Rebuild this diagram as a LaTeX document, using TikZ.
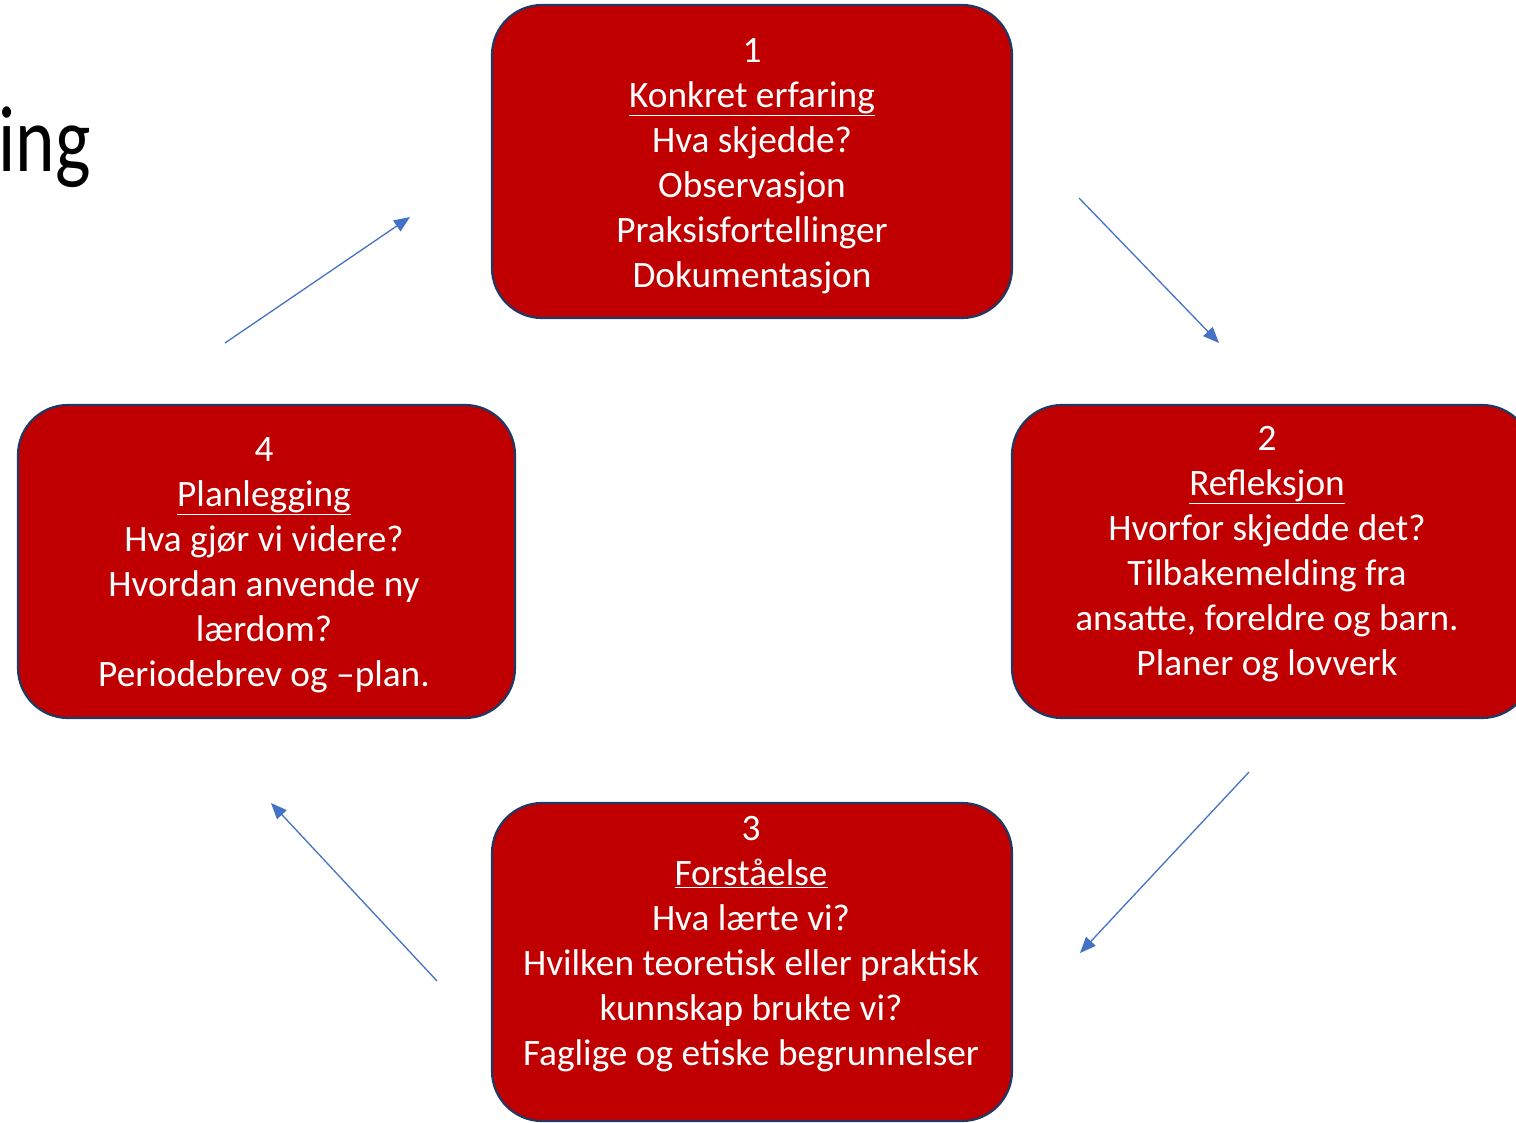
\documentclass[tikz,border=0pt]{standalone}
\usepackage{fontspec}
\setmainfont{Carlito}
\newfontfamily\titlefont[FakeStretch=0.8]{Carlito}
\usetikzlibrary{arrows.meta}
\definecolor{boxred}{HTML}{C00000}
\definecolor{boxedge}{HTML}{1F3864}
\definecolor{arrowblue}{HTML}{4472C4}
\begin{document}
\begin{tikzpicture}[x=1pt,y=-1pt,
  stagebox/.style={draw=boxedge, line width=2.2pt, fill=boxred, rounded corners=50pt, inner sep=0pt},
  stagetext/.style={text=white, align=center, font=\fontsize{37.3}{45}\selectfont, inner sep=0pt},
  flow/.style={draw=arrowblue, line width=1.3pt, -{Triangle[length=16pt,width=13pt]}}]
\useasboundingbox (0,0) rectangle (1516,1123);
% title fragment
\node[anchor=base east, inner sep=0pt, font=\titlefont\fontsize{94}{110}\selectfont] (title) at (91,172) {ing};
% boxes
\node[stagebox, minimum width=520pt, minimum height=313pt] (b1) at (752,161.5) {};
\node[stagebox, minimum width=520pt, minimum height=313pt] (b2) at (1272,561.5) {};
\node[stagebox, minimum width=520pt, minimum height=318pt] (b3) at (752,962) {};
\node[stagebox, minimum width=497pt, minimum height=313pt] (b4) at (266.5,561.5) {};
% texts
\node[stagetext] (t1) at (752,166.5) {1\\\underline{Konkret erfaring}\\Hva skjedde?\\Observasjon\\Praksisfortellinger\\Dokumentasjon};
\node[stagetext] (t2) at (1267,554) {2\\\underline{Refleksjon}\\Hvorfor skjedde det?\\Tilbakemelding fra\\ansatte, foreldre og barn.\\Planer og lovverk};
\node[stagetext] (t3) at (751,944) {3\\\underline{Forståelse}\\Hva lærte vi?\\Hvilken teoretisk eller praktisk\\kunnskap brukte vi?\\Faglige og etiske begrunnelser};
\node[stagetext] (t4) at (264,565) {4\\\underline{Planlegging}\\Hva gjør vi videre?\\Hvordan anvende ny\\lærdom?\\Periodebrev og –plan.};
% arrows
\coordinate (a1s) at (225,343); \coordinate (a1e) at (410,217);
\coordinate (a2s) at (1079,198); \coordinate (a2e) at (1219,343);
\coordinate (a3s) at (1249,772); \coordinate (a3e) at (1080,953);
\coordinate (a4s) at (437,981); \coordinate (a4e) at (271,803);
\draw[flow] (a1s) -- (a1e);
\draw[flow] (a2s) -- (a2e);
\draw[flow] (a3s) -- (a3e);
\draw[flow] (a4s) -- (a4e);
\end{tikzpicture}
\end{document}
